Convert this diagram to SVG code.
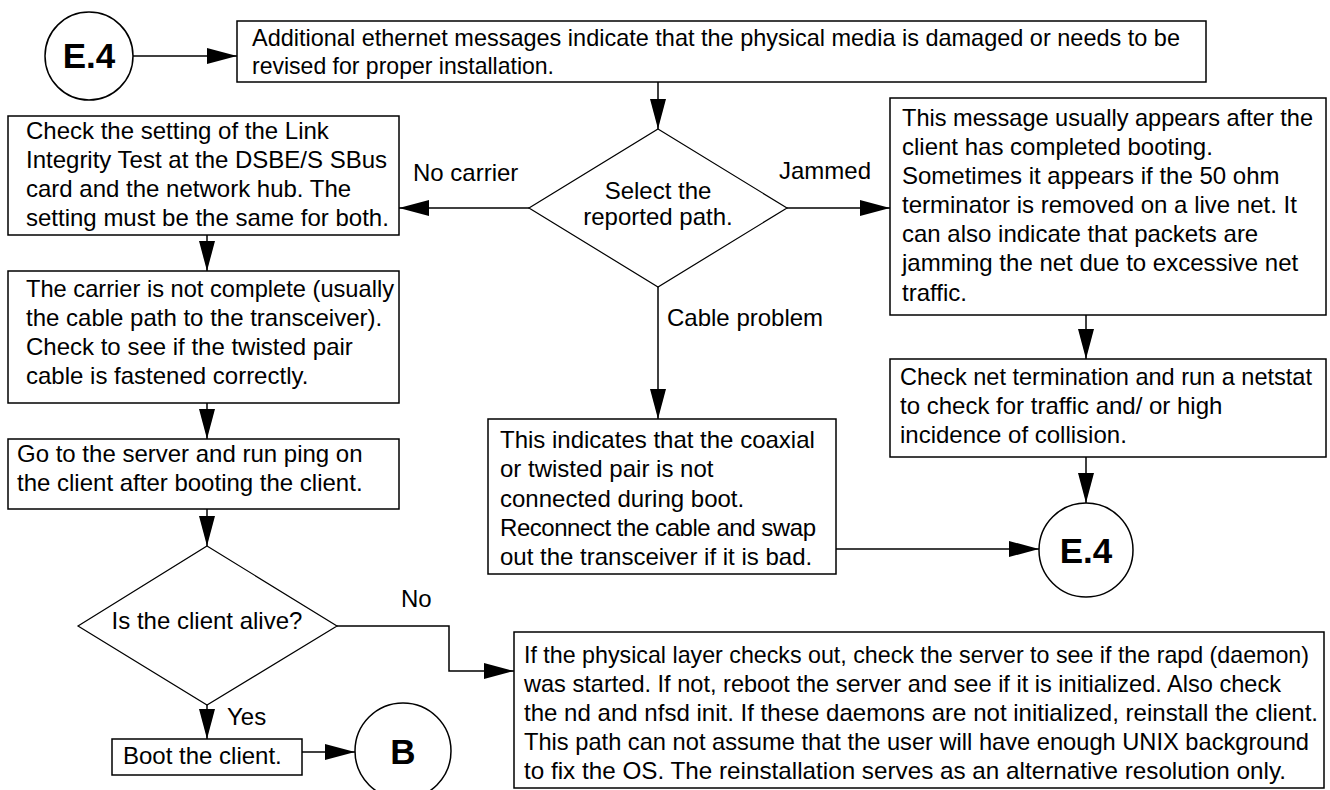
<svg xmlns="http://www.w3.org/2000/svg" width="1330" height="790" viewBox="0 0 1330 790">
<style>
.bx{fill:#fff;stroke:#000;stroke-width:1.5}
.dm{fill:#fff;stroke:#000;stroke-width:1.2}
.ci{fill:#fff;stroke:#000;stroke-width:1.5}
.t{font-family:"Liberation Sans",Arial,Helvetica,sans-serif;font-size:24px;fill:#000}
.s{font-size:23.2px}
.c{text-anchor:middle}
.big{font-family:"Liberation Sans",Arial,Helvetica,sans-serif;font-size:35px;font-weight:bold;fill:#000;text-anchor:middle}
.ln{fill:none;stroke:#000;stroke-width:1.5;marker-end:url(#ah)}
</style>
<defs>
<marker id="ah" markerUnits="userSpaceOnUse" markerWidth="30" markerHeight="16" refX="30" refY="8" orient="auto">
<path d="M0,0 L30,8 L0,16 Z" fill="#000"/>
</marker>
</defs>
<rect width="1330" height="790" fill="#fff"/>
<g id="connectors">
<line class="ln" x1="133" y1="56" x2="237" y2="56"/>
<line class="ln" x1="658" y1="82" x2="658" y2="129"/>
<line class="ln" x1="529" y1="208" x2="399" y2="208"/>
<line class="ln" x1="787" y1="208" x2="890" y2="208"/>
<line class="ln" x1="658" y1="287" x2="658" y2="419"/>
<line class="ln" x1="207" y1="235" x2="207" y2="271"/>
<line class="ln" x1="207" y1="403" x2="207" y2="439"/>
<line class="ln" x1="207" y1="509" x2="207" y2="546"/>
<line class="ln" x1="1086" y1="315" x2="1086" y2="359"/>
<line class="ln" x1="1086" y1="457" x2="1086" y2="503"/>
<line class="ln" x1="836" y1="549" x2="1039" y2="549"/>
<polyline class="ln" points="337,626 449,626 449,671 514,671"/>
<line class="ln" x1="207" y1="705" x2="207" y2="739"/>
<line class="ln" x1="302" y1="752" x2="355" y2="752"/>
<text class="t" x="413" y="181">No carrier</text>
<text class="t" x="779" y="179">Jammed</text>
<text class="t" x="667" y="326">Cable problem</text>
<text class="t" x="401" y="607">No</text>
<text class="t" x="227" y="725">Yes</text>
</g>
<g id="e4top">
<circle class="ci" cx="89" cy="56" r="44"/>
<text class="big" x="89" y="68">E.4</text>
</g>
<g id="topbox">
<rect class="bx" x="237" y="21" width="969" height="61"/>
<text class="t s" x="252" y="46" textLength="928" lengthAdjust="spacingAndGlyphs">Additional ethernet messages indicate that the physical media is damaged or needs to be</text>
<text class="t s" x="252" y="74" textLength="302" lengthAdjust="spacingAndGlyphs">revised for proper installation.</text>
</g>
<g id="select">
<polygon class="dm" points="658,129 787,208 658,287 529,208"/>
<text class="t c" x="658" y="199">Select the</text>
<text class="t c" x="658" y="225">reported path.</text>
</g>
<g id="linkbox">
<rect class="bx" x="8" y="116" width="391" height="119"/>
<text class="t" x="26" y="139">Check the setting of the Link</text>
<text class="t" x="26" y="168">Integrity Test at the DSBE/S SBus</text>
<text class="t" x="26" y="197">card and the network hub. The</text>
<text class="t" x="26" y="226">setting must be the same for both.</text>
</g>
<g id="jammedbox">
<rect class="bx" x="890" y="98" width="436" height="217"/>
<text class="t" x="902" y="126" textLength="411" lengthAdjust="spacingAndGlyphs">This message usually appears after the</text>
<text class="t" x="902" y="155">client has completed booting.</text>
<text class="t" x="902" y="184">Sometimes it appears if the 50 ohm</text>
<text class="t" x="902" y="213">terminator is removed on a live net. It</text>
<text class="t" x="902" y="242">can also indicate that packets are</text>
<text class="t" x="902" y="271">jamming the net due to excessive net</text>
<text class="t" x="902" y="301">traffic.</text>
</g>
<g id="carrierbox">
<rect class="bx" x="8" y="271" width="391" height="132"/>
<text class="t" x="26" y="297" textLength="368" lengthAdjust="spacingAndGlyphs">The carrier is not complete (usually</text>
<text class="t" x="26" y="326">the cable path to the transceiver).</text>
<text class="t" x="26" y="355">Check to see if the twisted pair</text>
<text class="t" x="26" y="384">cable is fastened correctly.</text>
</g>
<g id="pingbox">
<rect class="bx" x="8" y="439" width="391" height="70"/>
<text class="t" x="17" y="462">Go to the server and run ping on</text>
<text class="t" x="17" y="491">the client after booting the client.</text>
</g>
<g id="netbox">
<rect class="bx" x="890" y="359" width="436" height="98"/>
<text class="t" x="900" y="385" textLength="412" lengthAdjust="spacingAndGlyphs">Check net termination and run a netstat</text>
<text class="t" x="900" y="414">to check for traffic and/ or high</text>
<text class="t" x="900" y="443">incidence of collision.</text>
</g>
<g id="coaxbox">
<rect class="bx" x="488" y="419" width="348" height="155"/>
<text class="t" x="500" y="448">This indicates that the coaxial</text>
<text class="t" x="500" y="477">or twisted pair is not</text>
<text class="t" x="500" y="507">connected during boot.</text>
<text class="t" x="500" y="536" textLength="316" lengthAdjust="spacing">Reconnect the cable and swap</text>
<text class="t" x="500" y="565">out the transceiver if it is bad.</text>
</g>
<g id="e4bottom">
<circle class="ci" cx="1086" cy="550" r="47"/>
<text class="big" x="1086" y="563">E.4</text>
</g>
<g id="alive">
<polygon class="dm" points="207,546 337,626 207,705 78,626"/>
<text class="t c" x="207" y="629">Is the client alive?</text>
</g>
<g id="bootbox">
<rect class="bx" x="112" y="739" width="190" height="36"/>
<text class="t" x="123" y="764">Boot the client.</text>
</g>
<g id="b">
<circle class="ci" cx="403" cy="751" r="48"/>
<text class="big" x="403" y="764">B</text>
</g>
<g id="daemonbox">
<rect class="bx" x="514" y="632" width="810" height="156"/>
<text class="t s" x="524" y="663" textLength="785" lengthAdjust="spacingAndGlyphs">If the physical layer checks out, check the server to see if the rapd (daemon)</text>
<text class="t s" x="524" y="692" textLength="757" lengthAdjust="spacingAndGlyphs">was started. If not, reboot the server and see if it is initialized. Also check</text>
<text class="t s" x="524" y="721" textLength="794" lengthAdjust="spacingAndGlyphs">the nd and nfsd init. If these daemons are not initialized, reinstall the client.</text>
<text class="t s" x="524" y="750" textLength="785" lengthAdjust="spacingAndGlyphs">This path can not assume that the user will have enough UNIX background</text>
<text class="t s" x="524" y="779" textLength="762" lengthAdjust="spacingAndGlyphs">to fix the OS. The reinstallation serves as an alternative resolution only.</text>
</g>
</svg>
